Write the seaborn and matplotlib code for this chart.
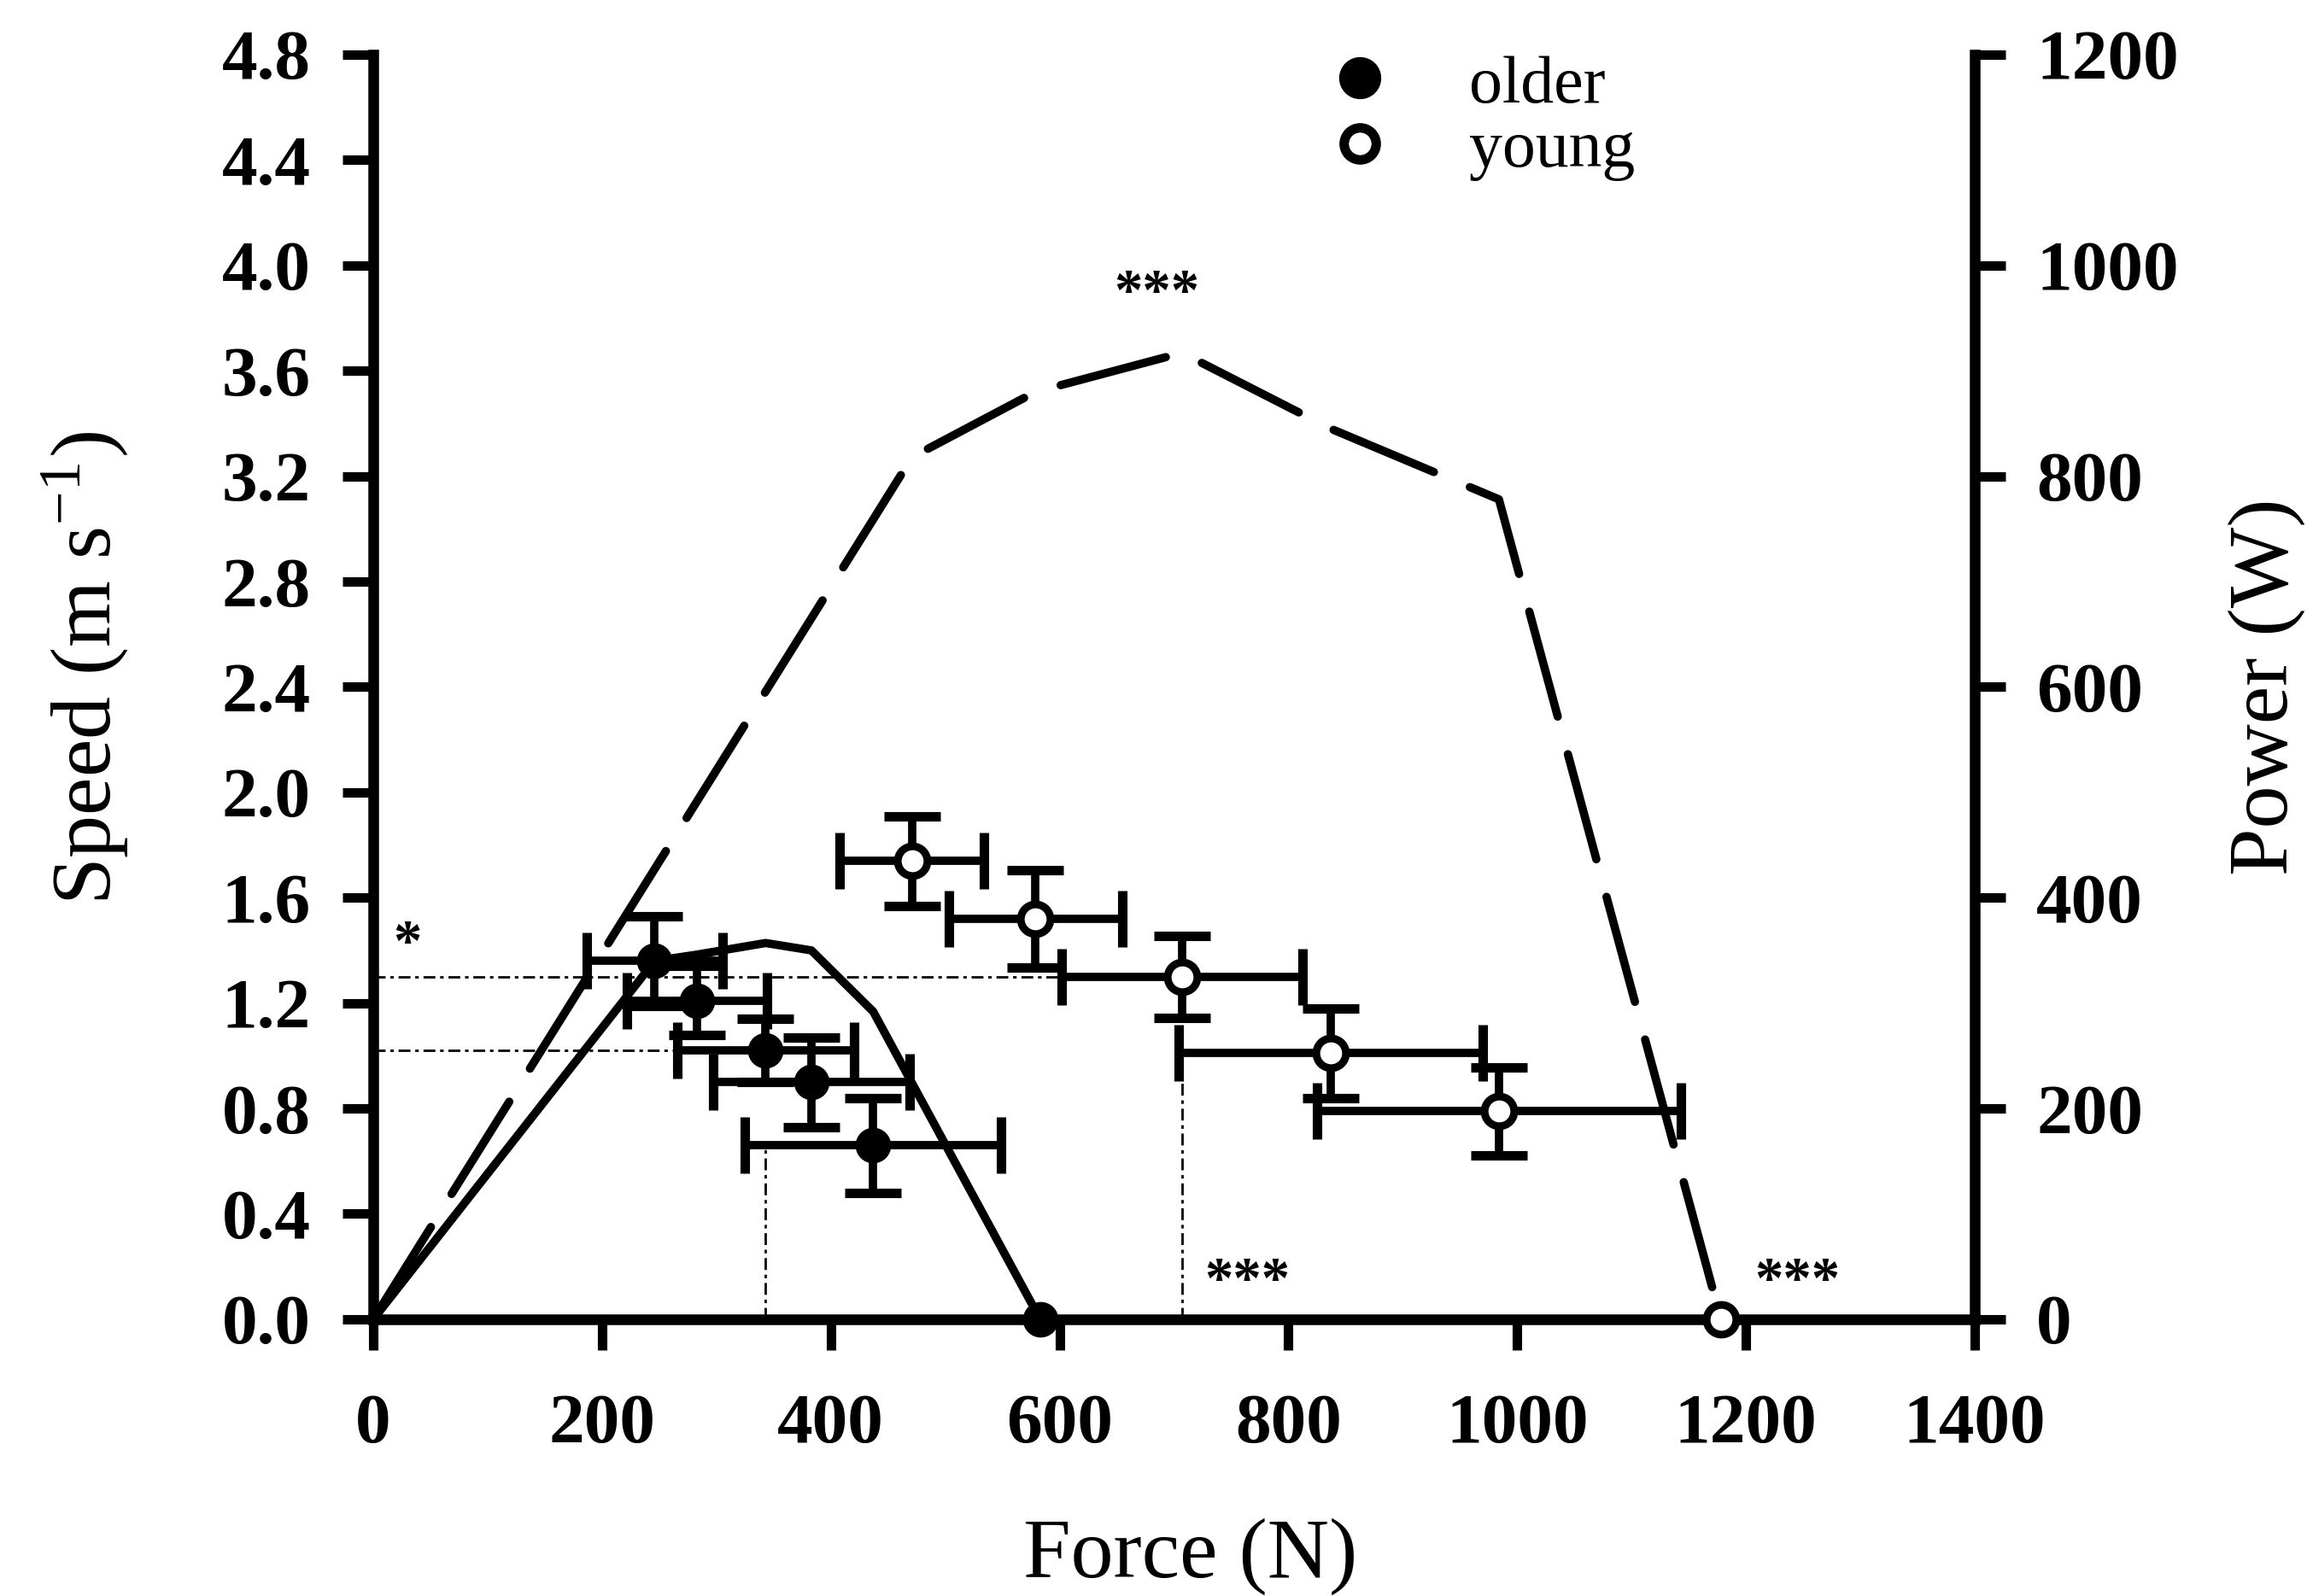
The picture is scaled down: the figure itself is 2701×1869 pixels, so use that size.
import matplotlib
matplotlib.use("Agg")
import matplotlib.pyplot as plt
import seaborn as sns

# ---------------- data ----------------
# speed–force points (mean ± SD)
older_force = [246, 283, 343, 383, 437]
older_speed = [1.36, 1.21, 1.02, 0.90, 0.66]
older_force_err = [59, 61, 77, 86, 112]
older_speed_err = [0.17, 0.13, 0.12, 0.17, 0.18]
older_zero_force = [583]          # force at zero speed
young_force = [471, 579, 707, 837, 984]
young_speed = [1.74, 1.52, 1.30, 1.01, 0.79]
young_force_err = [63, 76, 105, 133, 159]
young_speed_err = [0.17, 0.185, 0.155, 0.17, 0.167]
young_zero_force = [1178]
zero_speed = [0.0]

# power–force curves (right axis)
older_power_force = [0, 246, 283, 343, 383, 437, 583]
older_power = [0, 340, 346, 357, 350, 292, 0]
young_power_force = [0, 471, 579, 707, 837, 984, 1178]
young_power = [0, 818, 880, 917, 845, 778, 0]

# dotted guide lines at the optimum (speed level / force level)
guide_h_speed = [1.30, 1.02]
guide_h_end = [600, 266]
guide_v_force = [343, 707]
guide_v_top = [0.66, 1.01]

# significance marks
sig_force = [30, 685, 764, 1245]
sig_speed = [1.465, 3.935, 0.185, 0.187]
sig_text = ["*", "***", "***", "***"]

# legend
legend_labels = ["older", "young"]
legend_marker_force = 862
legend_marker_speed = [4.713, 4.464]
legend_text_force = 958
legend_text_speed = [4.619, 4.376]

force_ticks = [0, 200, 400, 600, 800, 1000, 1200, 1400]
speed_ticks = [0.0, 0.4, 0.8, 1.2, 1.6, 2.0, 2.4, 2.8, 3.2, 3.6, 4.0, 4.4, 4.8]
power_ticks = [0, 200, 400, 600, 800, 1000, 1200]

# ---------------- style ----------------
sns.set_theme(style="ticks")
plt.rcParams["font.family"] = ["Liberation Serif", "DejaVu Serif"]
plt.rcParams["mathtext.fontset"] = "stix"
for k in ["axes.edgecolor", "xtick.color", "ytick.color", "text.color",
          "axes.labelcolor"]:
    plt.rcParams[k] = "black"

fig = plt.figure(figsize=(27.01, 18.69), dpi=100)
ax = fig.add_axes([0.1618, 0.1734, 0.6942, 0.7924])
ax2 = ax.twinx()
ax.set_zorder(2)
ax2.set_zorder(1)
ax.patch.set_visible(False)

LW = 7

# power curves
sns.lineplot(x=older_power_force, y=older_power, ax=ax2, color="black",
             lw=LW, sort=False, estimator=None)
ax2.lines[-1].set_solid_joinstyle("round")
ax2.lines[-1].set_solid_capstyle("round")
sns.lineplot(x=young_power_force, y=young_power, ax=ax2, color="black",
             lw=LW, sort=False, estimator=None)
dl = ax2.lines[-1]
dl.set_linestyle((0, (13.1, 4.7)))
dl.set_dash_capstyle("round")

# guide lines
guide_style = dict(color="black", lw=2.0, linestyle=(0, (5, 2, 1.5, 2)), zorder=1)
for yv, xe in zip(guide_h_speed, guide_h_end):
    ax.plot([0, xe], [yv, yv], **guide_style)
for xv, yt in zip(guide_v_force, guide_v_top):
    ax.plot([xv, xv], [0, yt], **guide_style)

# error bars
eb = dict(fmt="none", ecolor="black", elinewidth=7, capsize=24, capthick=8, zorder=2)
ax.errorbar(older_force, older_speed, xerr=older_force_err, yerr=older_speed_err, **eb)
ax.errorbar(young_force, young_speed, xerr=young_force_err, yerr=young_speed_err, **eb)

# points
sns.scatterplot(x=older_force + older_zero_force, y=older_speed + zero_speed, ax=ax,
                color="black", edgecolor="black", s=30 ** 2, linewidth=0,
                zorder=4, clip_on=False)
sns.scatterplot(x=young_force + young_zero_force, y=young_speed + zero_speed, ax=ax,
                color="white", edgecolor="black", s=25 ** 2, linewidth=6.5,
                zorder=4, clip_on=False)

# significance marks
for f, s, t in zip(sig_force, sig_speed, sig_text):
    ax.annotate(t, xy=(f, s), xytext=(0, -22), textcoords="offset points",
                ha="center", va="baseline", fontsize=48, fontweight="bold")

# legend (drawn in data space as in the original)
ax.plot([legend_marker_force], [legend_marker_speed[0]], "o", ms=34.5,
        color="black", zorder=5)
ax.plot([legend_marker_force], [legend_marker_speed[1]], "o", ms=27,
        mfc="white", mec="black", mew=8, zorder=5)
for lab, ys in zip(legend_labels, legend_text_speed):
    ax.text(legend_text_force, ys, lab, fontsize=56, ha="left", va="baseline")

# axes
ax.set_xlim(0, 1400)
ax.set_ylim(0, 4.8)
ax2.set_ylim(0, 1200)
ax.set_xticks(force_ticks, labels=[str(v) for v in force_ticks])
ax.set_yticks(speed_ticks, labels=[f"{v:.1f}" for v in speed_ticks])
ax2.set_yticks(power_ticks, labels=[str(v) for v in power_ticks])

for side in ["top", "right"]:
    ax.spines[side].set_visible(False)
for side in ["top", "left", "bottom"]:
    ax2.spines[side].set_visible(False)
ax.spines["left"].set_linewidth(9)
ax.spines["bottom"].set_linewidth(9)
ax2.spines["right"].set_linewidth(9)

ax.tick_params(axis="x", direction="out", length=26, width=8, labelsize=60, pad=37)
ax.tick_params(axis="y", direction="out", length=26, width=8, labelsize=60, pad=27)
ax2.tick_params(axis="y", direction="out", length=26, width=8, labelsize=60, pad=26)
for t in ax.get_xticklabels() + ax.get_yticklabels() + ax2.get_yticklabels():
    t.set_fontweight("bold")

ax.set_xlabel("Force (N)", fontsize=72)
ax.xaxis.set_label_coords(0.51, -0.157)
ax.set_ylabel(r"Speed (m s$^{\mathregular{-1}}$)", fontsize=72)
ax.yaxis.set_label_coords(-0.152, 0.515)
ax2.set_ylabel("Power (W)", fontsize=72)
ax2.yaxis.set_label_coords(1.158, 0.5)

fig.savefig("out.png", dpi=100)
